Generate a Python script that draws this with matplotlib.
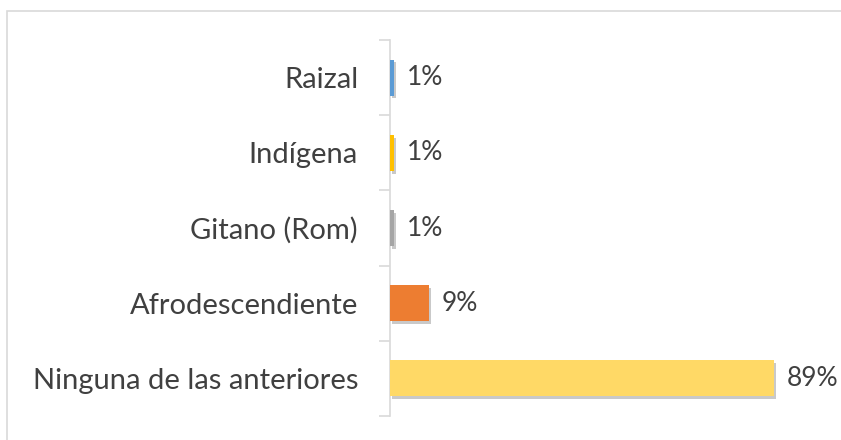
import matplotlib
matplotlib.use("Agg")
import matplotlib.pyplot as plt
import matplotlib.patheffects as pe
from matplotlib.patches import Rectangle
import numpy as np

# Chart data (top to bottom as in the picture)
categories = ["Raizal", "Indígena", "Gitano (Rom)", "Afrodescendiente", "Ninguna de las anteriores"]
values = [1, 1, 1, 9, 89]
labels = ["1%", "1%", "1%", "9%", "89%"]
colors = ["#5B9BD5", "#FFC000", "#A5A5A5", "#ED7D31", "#FFD966"]

plt.rcParams["font.family"] = ["Lato", "DejaVu Sans"]
text_color = "#404040"

fig = plt.figure(figsize=(8.41, 4.40), dpi=100)
ax = fig.add_axes([0.4637, 0.0545, 0.5135, 0.8545])

# reverse so the first category sits at the top
ypos = np.arange(len(categories))[::-1]
bars = ax.barh(ypos, values, height=0.48, color=colors, zorder=3)
for b in bars:
    b.set_path_effects([pe.SimplePatchShadow(offset=(1.5, -2), shadow_rgbFace="#888888", alpha=0.45), pe.Normal()])

for y, v, lab in zip(ypos, values, labels):
    ax.annotate(lab, (v, y), xytext=(9, 0), textcoords="offset points",
                va="center", ha="left", fontsize=19, color=text_color)

ax.set_xlim(0, 100)
ax.set_ylim(-0.5, len(categories) - 0.5)
ax.set_yticks(ypos)
ax.set_yticklabels(categories, fontsize=21, color=text_color)
ax.set_yticks(np.arange(len(categories) + 1) - 0.5, minor=True)
ax.tick_params(axis="y", which="major", length=0, pad=23)
ax.tick_params(axis="y", which="minor", length=8, width=1.2, color="#D9D9D9")
ax.set_xticks([])

for s in ["top", "right", "bottom"]:
    ax.spines[s].set_visible(False)
ax.spines["left"].set_color("#D9D9D9")
ax.spines["left"].set_linewidth(1.2)

# outer chart border (cut off on right and bottom)
fig.patches.append(Rectangle((0.0083, -0.05), 1.1, 1.025, transform=fig.transFigure,
                             fill=False, edgecolor="#D9D9D9", linewidth=1.2))

fig.savefig("out.png", dpi=100)
